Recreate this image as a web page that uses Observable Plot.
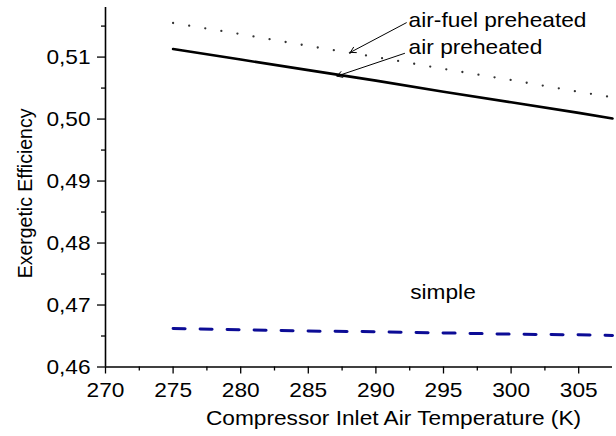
<!DOCTYPE html>
<html>
<head>
<meta charset="utf-8">
<script src="https://cdn.jsdelivr.net/npm/d3@7"></script>
<script src="https://cdn.jsdelivr.net/npm/@observablehq/plot@0.6"></script>
<style>
  html, body { margin: 0; padding: 0; background: white; }
</style>
</head>
<body>
<div id="chart"></div>
<script>
// Compressor inlet air temperature (K)
const temps = [275, 280, 285, 290, 295, 300, 305, 307.5];
// Exergetic efficiency per configuration
const airFuelPreheated = [0.5155, 0.5137, 0.5118, 0.5100, 0.5081, 0.5063, 0.5044, 0.5035];
const airPreheated     = [0.5113, 0.5096, 0.5079, 0.5062, 0.5044, 0.5027, 0.5010, 0.5001];
const simpleCycle      = [0.4662, 0.4660, 0.4658, 0.4657, 0.4655, 0.4653, 0.4652, 0.4651];

const xMajor = [270, 275, 280, 285, 290, 295, 300, 305];
const xMinor = [272.5, 277.5, 282.5, 287.5, 292.5, 297.5, 302.5];
const yMajor = [0.46, 0.47, 0.48, 0.49, 0.50, 0.51];
const yMinor = [0.465, 0.475, 0.485, 0.495, 0.505, 0.515];

const seriesLabels = ["air-fuel preheated", "air preheated", "simple"];
const xTitle = "Compressor Inlet Air Temperature (K)";
const yTitle = "Exergetic Efficiency";

const mk = (vals) => temps.map((t, i) => ({t, v: vals[i]}));
const dAF = mk(airFuelPreheated);
const dA = mk(airPreheated);
const dS = mk(simpleCycle);

const comma = d => d3.format(".2f")(d).replace(".", ",");

// annotation anchors (data coordinates)
const arrows = [
  {x1: 292.25, y1: 0.51554, x2: 288.11, y2: 0.51076},
  {x1: 292.12, y1: 0.51060, x2: 287.12, y2: 0.50693}
];
const notes = [
  {x: 292.42, y: 0.51598, text: seriesLabels[0]},
  {x: 292.42, y: 0.51162, text: seriesLabels[1]},
  {x: 292.54, y: 0.47204, text: seriesLabels[2]}
];

const chart = Plot.plot({
  width: 616,
  height: 436,
  marginLeft: 105,
  marginRight: 4,
  marginTop: 7,
  marginBottom: 69.5,
  x: {domain: [270, 307.5]},
  y: {domain: [0.46, 0.518]},
  style: {fontFamily: "'Liberation Sans', Arial, sans-serif", fontSize: "21px", color: "black", background: "white"},
  marks: [
    Plot.axisY(yMajor, {tickSize: 8, tickPadding: 7, tickFormat: comma, label: null, fontSize: 21, strokeWidth: 1.3}),
    Plot.axisY(yMinor, {tickSize: 4, tickFormat: () => "", label: null, strokeWidth: 1.3}),
    Plot.axisX(xMajor, {tickSize: 7, tickPadding: 8, tickFormat: d => String(d), label: null, fontSize: 21, strokeWidth: 1.3}),
    Plot.axisX(xMinor, {tickSize: 4, tickFormat: () => "", label: null, strokeWidth: 1.3}),
    Plot.ruleX([270], {strokeWidth: 1.6}),
    Plot.ruleY([0.46], {strokeWidth: 1.6}),
    Plot.line(dAF, {x: "t", y: "v", stroke: "#333", strokeWidth: 2.3, strokeDasharray: "0,16.3", strokeLinecap: "round"}),
    Plot.line(dA, {x: "t", y: "v", stroke: "black", strokeWidth: 2.6}),
    Plot.line(dS, {x: "t", y: "v", stroke: "#0c0c96", strokeWidth: 3, strokeDasharray: "12,15"}),
    Plot.arrow(arrows, {x1: "x1", y1: "y1", x2: "x2", y2: "y2", stroke: "black", strokeWidth: 1, headLength: 9}),
    Plot.text(notes, {x: "x", y: "y", text: "text", textAnchor: "start", lineAnchor: "middle", fontSize: 21, fill: "black"}),
    Plot.text([xTitle], {x: 291.3, y: 0.46, dy: 51, text: d => d, fontSize: 21, fill: "black", lineAnchor: "middle"}),
    Plot.text([yTitle], {x: 270, y: 0.488, dx: -80, rotate: -90, text: d => d, fontSize: 19.5, fill: "black", lineAnchor: "middle", className: "ytitle"})
  ]
});
document.getElementById("chart").appendChild(chart);

// the reference's horizontal lettering is slightly wider than Arial: stretch horizontal texts
chart.querySelectorAll("text").forEach(t => {
  if (t.closest(".ytitle")) return;
  const len = t.getComputedTextLength();
  if (len > 0) {
    t.setAttribute("textLength", (len * 1.08).toFixed(1));
    t.setAttribute("lengthAdjust", "spacingAndGlyphs");
  }
});
</script>
</body>
</html>
